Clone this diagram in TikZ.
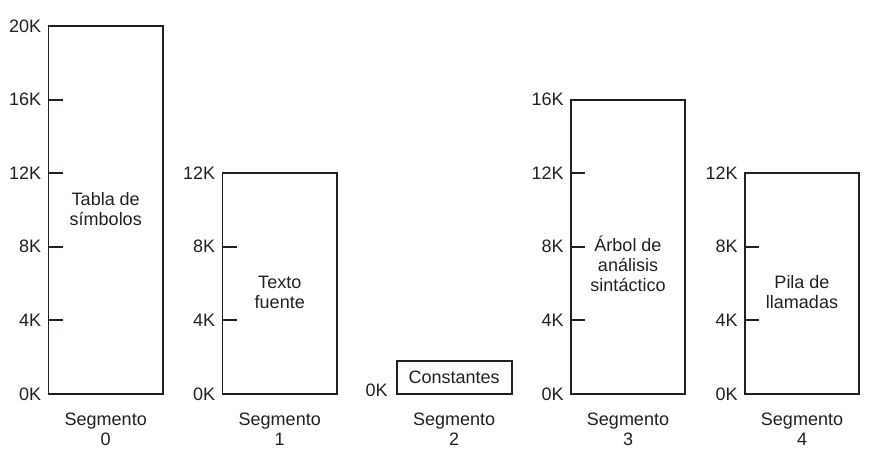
\documentclass[tikz,border=0pt]{standalone}
\usepackage{fontspec}
\setmainfont{Liberation Sans}
\usepackage{tikz}
\definecolor{ink}{RGB}{35,31,32}

\begin{document}
\begin{tikzpicture}[x=1pt, y=18.4pt, line width=1.9pt, draw=ink,
	every node/.style={font=\fontsize{18}{20}\selectfont, text=ink},
	klabel/.style={anchor=east, inner sep=0pt},
	seglabel/.style={align=center, anchor=north, inner sep=0pt},
	boxtext/.style={align=center, inner sep=0pt}]
\useasboundingbox (0,-3.261) rectangle (877,21.413);

% segment 0: symbol table
	\draw (48.5,0) rectangle (163,20);
	\foreach \k in {4,8,12,16} \draw (48.5,\k) -- +(14,0);
	\foreach \k in {0,4,...,20} \node[klabel] (a\k) at (42,\k) {\k K};
	\node[boxtext] (tabla) at (105.75,10.05) {Tabla de\\símbolos};
	\node[seglabel] (s0) at (105.75,-0.95) {Segmento\\0};

% segment 1: source text
	\draw (222.5,0) rectangle (337,12);
	\foreach \k in {4,8} \draw (222.5,\k) -- +(14,0);
	\foreach \k in {0,4,...,12} \node[klabel] (b\k) at (216,\k) {\k K};
	\node[boxtext] (texto) at (279.75,5.54) {Texto\\fuente};
	\node[seglabel] (s1) at (279.75,-0.95) {Segmento\\1};

% segment 2: constants
	\draw (396.7,0) rectangle (511.7,1.81);
	\node[klabel] (c0) at (388.5,0.2) {0K};
	\node[boxtext] (const) at (454.2,0.9) {Constantes};
	\node[seglabel] (s2) at (454.2,-0.95) {Segmento\\2};

% segment 3: parse tree
	\draw (571,0) rectangle (685,16);
	\foreach \k in {4,8,12} \draw (571,\k) -- +(14,0);
	\foreach \k in {0,4,...,16} \node[klabel] (d\k) at (564.5,\k) {\k K};
	\node[boxtext] (arbol) at (628,7.07) {Árbol de\\análisis\\sintáctico};
	\node[seglabel] (s3) at (628,-0.95) {Segmento\\3};

% segment 4: call stack
	\draw (745,0) rectangle (859,12);
	\foreach \k in {4,8} \draw (745,\k) -- +(14,0);
	\foreach \k in {0,4,...,12} \node[klabel] (e\k) at (738.5,\k) {\k K};
	\node[boxtext] (pila) at (802,5.54) {Pila de\\llamadas};
	\node[seglabel] (s4) at (802,-0.95) {Segmento\\4};
\end{tikzpicture}
\end{document}
